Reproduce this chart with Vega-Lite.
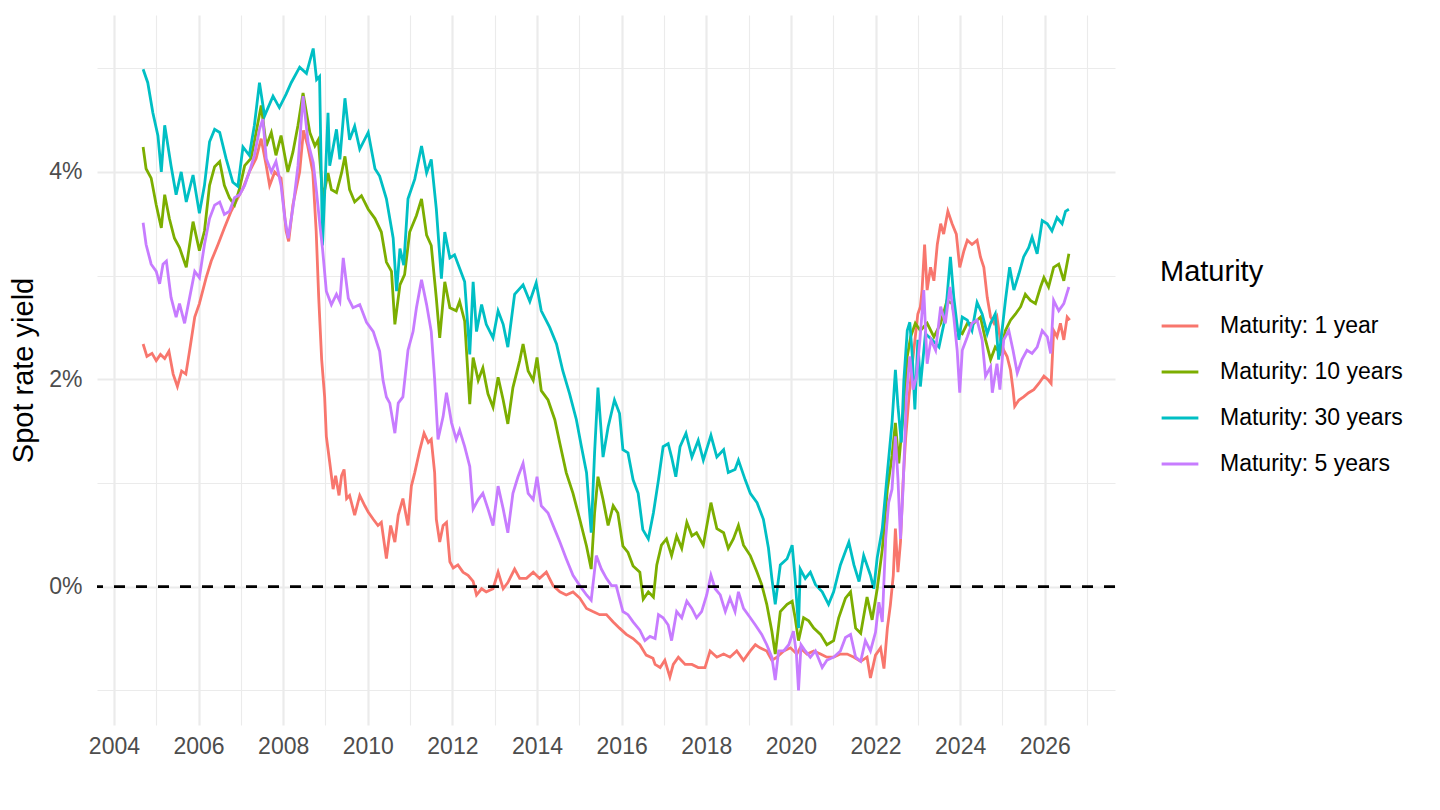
{
  "$schema": "https://vega.github.io/schema/vega-lite/v6.json",
  "width": 1018,
  "height": 710,
  "autosize": {"type": "none"},
  "padding": {"left": 97, "top": 15, "right": 325, "bottom": 85},
  "background": "white",
  "config": {
    "view": {"stroke": null},
    "font": "Liberation Sans",
    "axis": {
      "domain": false,
      "ticks": false,
      "labelFont": "Liberation Sans",
      "labelFontSize": 23,
      "labelColor": "#4D4D4D",
      "gridColor": "#EBEBEB",
      "titleFont": "Liberation Sans",
      "titleFontSize": 29,
      "titleFontWeight": "normal",
      "titleColor": "black"
    }
  },
  "datasets": {
    "y1": [
      {"t":2004.69,"v":2.34},{"t":2004.78,"v":2.22},{"t":2004.9,"v":2.25},{"t":2005.0,"v":2.18},{"t":2005.1,"v":2.24},{"t":2005.2,"v":2.2},{"t":2005.3,"v":2.27},{"t":2005.4,"v":2.05},{"t":2005.5,"v":1.93},{"t":2005.6,"v":2.08},{"t":2005.7,"v":2.05},{"t":2005.79,"v":2.28},{"t":2005.91,"v":2.6},{"t":2006.02,"v":2.73},{"t":2006.18,"v":2.98},{"t":2006.3,"v":3.14},{"t":2006.46,"v":3.3},{"t":2006.61,"v":3.46},{"t":2006.77,"v":3.62},{"t":2006.93,"v":3.75},{"t":2007.05,"v":3.84},{"t":2007.2,"v":4.0},{"t":2007.36,"v":4.13},{"t":2007.48,"v":4.32},{"t":2007.6,"v":4.06},{"t":2007.68,"v":3.87},{"t":2007.8,"v":4.0},{"t":2007.95,"v":3.94},{"t":2008.07,"v":3.43},{"t":2008.13,"v":3.33},{"t":2008.23,"v":3.68},{"t":2008.39,"v":4.0},{"t":2008.48,"v":4.4},{"t":2008.58,"v":4.25},{"t":2008.7,"v":4.0},{"t":2008.78,"v":3.43},{"t":2008.84,"v":2.79},{"t":2008.91,"v":2.19},{"t":2008.98,"v":1.83},{"t":2009.02,"v":1.45},{"t":2009.1,"v":1.2},{"t":2009.18,"v":0.94},{"t":2009.24,"v":1.07},{"t":2009.32,"v":0.88},{"t":2009.38,"v":1.07},{"t":2009.44,"v":1.13},{"t":2009.5,"v":0.85},{"t":2009.57,"v":0.88},{"t":2009.69,"v":0.69},{"t":2009.81,"v":0.88},{"t":2009.93,"v":0.78},{"t":2010.01,"v":0.72},{"t":2010.13,"v":0.65},{"t":2010.24,"v":0.59},{"t":2010.32,"v":0.62},{"t":2010.44,"v":0.27},{"t":2010.54,"v":0.59},{"t":2010.64,"v":0.43},{"t":2010.72,"v":0.69},{"t":2010.83,"v":0.85},{"t":2010.95,"v":0.59},{"t":2011.03,"v":0.97},{"t":2011.11,"v":1.1},{"t":2011.23,"v":1.32},{"t":2011.33,"v":1.48},{"t":2011.43,"v":1.39},{"t":2011.5,"v":1.42},{"t":2011.58,"v":1.1},{"t":2011.62,"v":0.65},{"t":2011.7,"v":0.43},{"t":2011.78,"v":0.59},{"t":2011.86,"v":0.62},{"t":2011.94,"v":0.24},{"t":2012.02,"v":0.18},{"t":2012.13,"v":0.21},{"t":2012.25,"v":0.14},{"t":2012.37,"v":0.11},{"t":2012.49,"v":0.05},{"t":2012.57,"v":-0.08},{"t":2012.69,"v":-0.02},{"t":2012.8,"v":-0.05},{"t":2012.96,"v":-0.02},{"t":2013.08,"v":0.14},{"t":2013.2,"v":-0.02},{"t":2013.31,"v":0.04},{"t":2013.47,"v":0.17},{"t":2013.59,"v":0.08},{"t":2013.75,"v":0.08},{"t":2013.91,"v":0.14},{"t":2014.06,"v":0.08},{"t":2014.22,"v":0.14},{"t":2014.38,"v":0.01},{"t":2014.54,"v":-0.05},{"t":2014.69,"v":-0.08},{"t":2014.85,"v":-0.05},{"t":2015.01,"v":-0.11},{"t":2015.17,"v":-0.21},{"t":2015.32,"v":-0.24},{"t":2015.48,"v":-0.27},{"t":2015.64,"v":-0.27},{"t":2015.8,"v":-0.34},{"t":2015.95,"v":-0.4},{"t":2016.11,"v":-0.46},{"t":2016.27,"v":-0.5},{"t":2016.43,"v":-0.56},{"t":2016.58,"v":-0.66},{"t":2016.74,"v":-0.69},{"t":2016.79,"v":-0.75},{"t":2016.91,"v":-0.78},{"t":2017.02,"v":-0.71},{"t":2017.14,"v":-0.87},{"t":2017.22,"v":-0.75},{"t":2017.34,"v":-0.68},{"t":2017.5,"v":-0.75},{"t":2017.66,"v":-0.75},{"t":2017.81,"v":-0.78},{"t":2017.97,"v":-0.78},{"t":2018.09,"v":-0.62},{"t":2018.25,"v":-0.68},{"t":2018.41,"v":-0.65},{"t":2018.56,"v":-0.68},{"t":2018.72,"v":-0.62},{"t":2018.88,"v":-0.71},{"t":2019.04,"v":-0.62},{"t":2019.16,"v":-0.56},{"t":2019.27,"v":-0.59},{"t":2019.43,"v":-0.62},{"t":2019.55,"v":-0.71},{"t":2019.67,"v":-0.68},{"t":2019.83,"v":-0.62},{"t":2019.99,"v":-0.59},{"t":2020.14,"v":-0.65},{"t":2020.22,"v":-0.59},{"t":2020.38,"v":-0.65},{"t":2020.54,"v":-0.62},{"t":2020.7,"v":-0.65},{"t":2020.85,"v":-0.68},{"t":2021.01,"v":-0.68},{"t":2021.17,"v":-0.65},{"t":2021.33,"v":-0.65},{"t":2021.49,"v":-0.68},{"t":2021.65,"v":-0.72},{"t":2021.8,"v":-0.68},{"t":2021.88,"v":-0.88},{"t":2022.0,"v":-0.66},{"t":2022.12,"v":-0.59},{"t":2022.2,"v":-0.79},{"t":2022.28,"v":-0.4},{"t":2022.35,"v":-0.18},{"t":2022.42,"v":0.11},{"t":2022.47,"v":0.56},{"t":2022.53,"v":0.14},{"t":2022.59,"v":0.43},{"t":2022.65,"v":1.0},{"t":2022.71,"v":1.42},{"t":2022.79,"v":1.83},{"t":2022.87,"v":2.15},{"t":2022.94,"v":2.41},{"t":2023.0,"v":2.63},{"t":2023.06,"v":2.7},{"t":2023.1,"v":2.86},{"t":2023.16,"v":3.3},{"t":2023.22,"v":2.86},{"t":2023.3,"v":3.08},{"t":2023.38,"v":2.95},{"t":2023.46,"v":3.3},{"t":2023.54,"v":3.5},{"t":2023.61,"v":3.4},{"t":2023.71,"v":3.62},{"t":2023.81,"v":3.5},{"t":2023.91,"v":3.4},{"t":2023.99,"v":3.08},{"t":2024.09,"v":3.24},{"t":2024.17,"v":3.34},{"t":2024.28,"v":3.3},{"t":2024.4,"v":3.34},{"t":2024.48,"v":3.18},{"t":2024.56,"v":3.08},{"t":2024.64,"v":2.79},{"t":2024.72,"v":2.6},{"t":2024.8,"v":2.54},{"t":2024.87,"v":2.6},{"t":2024.95,"v":2.38},{"t":2025.03,"v":2.28},{"t":2025.11,"v":2.22},{"t":2025.19,"v":2.09},{"t":2025.25,"v":1.9},{"t":2025.29,"v":1.74},{"t":2025.39,"v":1.8},{"t":2025.5,"v":1.83},{"t":2025.62,"v":1.87},{"t":2025.74,"v":1.9},{"t":2025.86,"v":1.96},{"t":2025.98,"v":2.03},{"t":2026.09,"v":1.99},{"t":2026.15,"v":1.96},{"t":2026.21,"v":2.47},{"t":2026.29,"v":2.41},{"t":2026.37,"v":2.54},{"t":2026.45,"v":2.38},{"t":2026.53,"v":2.6},{"t":2026.59,"v":2.57}
    ],
    "y10": [
      {"t":2004.69,"v":4.24},{"t":2004.76,"v":4.03},{"t":2004.88,"v":3.94},{"t":2005.0,"v":3.68},{"t":2005.12,"v":3.46},{"t":2005.2,"v":3.78},{"t":2005.31,"v":3.55},{"t":2005.43,"v":3.36},{"t":2005.55,"v":3.27},{"t":2005.71,"v":3.08},{"t":2005.87,"v":3.52},{"t":2006.02,"v":3.24},{"t":2006.14,"v":3.43},{"t":2006.26,"v":3.87},{"t":2006.38,"v":4.05},{"t":2006.5,"v":4.1},{"t":2006.61,"v":3.87},{"t":2006.73,"v":3.75},{"t":2006.85,"v":3.68},{"t":2006.97,"v":3.84},{"t":2007.09,"v":4.06},{"t":2007.24,"v":4.13},{"t":2007.36,"v":4.38},{"t":2007.48,"v":4.64},{"t":2007.6,"v":4.25},{"t":2007.72,"v":4.38},{"t":2007.83,"v":4.16},{"t":2007.95,"v":4.35},{"t":2008.11,"v":4.0},{"t":2008.23,"v":4.19},{"t":2008.35,"v":4.45},{"t":2008.47,"v":4.76},{"t":2008.63,"v":4.38},{"t":2008.75,"v":4.25},{"t":2008.83,"v":4.31},{"t":2008.94,"v":3.74},{"t":2009.06,"v":3.99},{"t":2009.14,"v":3.83},{"t":2009.26,"v":3.8},{"t":2009.38,"v":3.99},{"t":2009.46,"v":4.15},{"t":2009.57,"v":3.83},{"t":2009.69,"v":3.71},{"t":2009.85,"v":3.77},{"t":2010.01,"v":3.64},{"t":2010.17,"v":3.55},{"t":2010.32,"v":3.42},{"t":2010.44,"v":3.13},{"t":2010.56,"v":3.04},{"t":2010.64,"v":2.53},{"t":2010.76,"v":2.91},{"t":2010.87,"v":3.01},{"t":2010.99,"v":3.42},{"t":2011.15,"v":3.58},{"t":2011.27,"v":3.74},{"t":2011.39,"v":3.39},{"t":2011.5,"v":3.29},{"t":2011.62,"v":2.78},{"t":2011.7,"v":2.4},{"t":2011.82,"v":2.94},{"t":2011.94,"v":2.69},{"t":2012.09,"v":2.66},{"t":2012.17,"v":2.75},{"t":2012.29,"v":2.56},{"t":2012.41,"v":1.76},{"t":2012.49,"v":2.21},{"t":2012.61,"v":1.99},{"t":2012.72,"v":2.11},{"t":2012.84,"v":1.86},{"t":2012.96,"v":1.73},{"t":2013.08,"v":2.02},{"t":2013.2,"v":1.8},{"t":2013.31,"v":1.57},{"t":2013.43,"v":1.92},{"t":2013.59,"v":2.18},{"t":2013.67,"v":2.34},{"t":2013.79,"v":2.08},{"t":2013.91,"v":1.99},{"t":2014.0,"v":2.21},{"t":2014.1,"v":1.89},{"t":2014.26,"v":1.8},{"t":2014.42,"v":1.61},{"t":2014.54,"v":1.38},{"t":2014.69,"v":1.1},{"t":2014.85,"v":0.9},{"t":2015.01,"v":0.65},{"t":2015.17,"v":0.39},{"t":2015.28,"v":0.17},{"t":2015.36,"v":0.71},{"t":2015.44,"v":1.06},{"t":2015.56,"v":0.84},{"t":2015.68,"v":0.59},{"t":2015.8,"v":0.78},{"t":2015.91,"v":0.71},{"t":2016.03,"v":0.39},{"t":2016.15,"v":0.33},{"t":2016.27,"v":0.2},{"t":2016.43,"v":0.14},{"t":2016.51,"v":-0.12},{"t":2016.63,"v":-0.05},{"t":2016.75,"v":-0.1},{"t":2016.83,"v":0.21},{"t":2016.94,"v":0.4},{"t":2017.06,"v":0.46},{"t":2017.18,"v":0.3},{"t":2017.3,"v":0.49},{"t":2017.42,"v":0.37},{"t":2017.54,"v":0.62},{"t":2017.66,"v":0.49},{"t":2017.77,"v":0.52},{"t":2017.93,"v":0.4},{"t":2018.11,"v":0.81},{"t":2018.25,"v":0.56},{"t":2018.41,"v":0.52},{"t":2018.52,"v":0.37},{"t":2018.64,"v":0.46},{"t":2018.76,"v":0.59},{"t":2018.88,"v":0.4},{"t":2019.04,"v":0.3},{"t":2019.2,"v":0.14},{"t":2019.31,"v":0.02},{"t":2019.43,"v":-0.17},{"t":2019.55,"v":-0.43},{"t":2019.63,"v":-0.65},{"t":2019.75,"v":-0.24},{"t":2019.91,"v":-0.17},{"t":2020.03,"v":-0.14},{"t":2020.1,"v":-0.3},{"t":2020.18,"v":-0.52},{"t":2020.3,"v":-0.3},{"t":2020.42,"v":-0.33},{"t":2020.54,"v":-0.4},{"t":2020.7,"v":-0.46},{"t":2020.85,"v":-0.56},{"t":2021.01,"v":-0.52},{"t":2021.13,"v":-0.3},{"t":2021.29,"v":-0.11},{"t":2021.41,"v":-0.05},{"t":2021.53,"v":-0.4},{"t":2021.65,"v":-0.45},{"t":2021.8,"v":-0.1},{"t":2021.92,"v":-0.32},{"t":2022.04,"v":-0.02},{"t":2022.16,"v":0.36},{"t":2022.28,"v":0.94},{"t":2022.39,"v":1.26},{"t":2022.47,"v":1.58},{"t":2022.55,"v":1.19},{"t":2022.67,"v":1.74},{"t":2022.75,"v":2.22},{"t":2022.83,"v":2.41},{"t":2022.94,"v":2.54},{"t":2023.06,"v":2.47},{"t":2023.22,"v":2.54},{"t":2023.38,"v":2.41},{"t":2023.54,"v":2.54},{"t":2023.69,"v":2.76},{"t":2023.81,"v":2.73},{"t":2023.93,"v":2.47},{"t":2024.05,"v":2.44},{"t":2024.17,"v":2.54},{"t":2024.32,"v":2.54},{"t":2024.48,"v":2.6},{"t":2024.6,"v":2.38},{"t":2024.72,"v":2.19},{"t":2024.83,"v":2.31},{"t":2024.95,"v":2.25},{"t":2025.07,"v":2.47},{"t":2025.19,"v":2.57},{"t":2025.31,"v":2.63},{"t":2025.43,"v":2.7},{"t":2025.54,"v":2.82},{"t":2025.66,"v":2.76},{"t":2025.78,"v":2.73},{"t":2025.9,"v":2.89},{"t":2025.98,"v":2.98},{"t":2026.09,"v":2.89},{"t":2026.21,"v":3.08},{"t":2026.33,"v":3.11},{"t":2026.45,"v":2.95},{"t":2026.57,"v":3.21}
    ],
    "y30": [
      {"t":2004.69,"v":4.99},{"t":2004.8,"v":4.86},{"t":2004.92,"v":4.57},{"t":2005.04,"v":4.35},{"t":2005.12,"v":4.0},{"t":2005.2,"v":4.45},{"t":2005.35,"v":4.06},{"t":2005.47,"v":3.78},{"t":2005.59,"v":4.0},{"t":2005.71,"v":3.71},{"t":2005.87,"v":3.97},{"t":2006.02,"v":3.6},{"t":2006.14,"v":3.87},{"t":2006.26,"v":4.29},{"t":2006.38,"v":4.41},{"t":2006.5,"v":4.38},{"t":2006.65,"v":4.13},{"t":2006.81,"v":3.9},{"t":2006.93,"v":3.86},{"t":2007.05,"v":4.24},{"t":2007.2,"v":4.16},{"t":2007.32,"v":4.45},{"t":2007.44,"v":4.86},{"t":2007.56,"v":4.54},{"t":2007.76,"v":4.73},{"t":2007.91,"v":4.62},{"t":2008.07,"v":4.75},{"t":2008.19,"v":4.86},{"t":2008.39,"v":5.01},{"t":2008.55,"v":4.95},{"t":2008.71,"v":5.19},{"t":2008.79,"v":4.89},{"t":2008.86,"v":4.92},{"t":2008.93,"v":3.29},{"t":2009.06,"v":4.57},{"t":2009.1,"v":4.06},{"t":2009.26,"v":4.41},{"t":2009.34,"v":4.12},{"t":2009.46,"v":4.71},{"t":2009.57,"v":4.31},{"t":2009.69,"v":4.44},{"t":2009.81,"v":4.22},{"t":2010.01,"v":4.38},{"t":2010.17,"v":4.03},{"t":2010.28,"v":3.96},{"t":2010.44,"v":3.74},{"t":2010.6,"v":3.36},{"t":2010.68,"v":2.85},{"t":2010.76,"v":3.26},{"t":2010.85,"v":3.1},{"t":2010.95,"v":3.74},{"t":2011.11,"v":3.93},{"t":2011.27,"v":4.25},{"t":2011.39,"v":3.99},{"t":2011.5,"v":4.12},{"t":2011.62,"v":3.64},{"t":2011.74,"v":2.97},{"t":2011.82,"v":3.42},{"t":2011.94,"v":3.17},{"t":2012.05,"v":3.2},{"t":2012.17,"v":3.07},{"t":2012.29,"v":2.94},{"t":2012.41,"v":2.24},{"t":2012.49,"v":2.94},{"t":2012.57,"v":2.46},{"t":2012.69,"v":2.72},{"t":2012.8,"v":2.53},{"t":2012.96,"v":2.4},{"t":2013.08,"v":2.66},{"t":2013.2,"v":2.53},{"t":2013.31,"v":2.31},{"t":2013.47,"v":2.82},{"t":2013.67,"v":2.91},{"t":2013.83,"v":2.75},{"t":2013.98,"v":2.93},{"t":2014.1,"v":2.66},{"t":2014.3,"v":2.5},{"t":2014.46,"v":2.34},{"t":2014.61,"v":2.08},{"t":2014.77,"v":1.86},{"t":2014.93,"v":1.61},{"t":2015.05,"v":1.35},{"t":2015.17,"v":1.1},{"t":2015.28,"v":0.52},{"t":2015.36,"v":1.29},{"t":2015.44,"v":1.92},{"t":2015.56,"v":1.25},{"t":2015.68,"v":1.54},{"t":2015.83,"v":1.8},{"t":2015.95,"v":1.67},{"t":2016.03,"v":1.32},{"t":2016.15,"v":1.29},{"t":2016.27,"v":1.03},{"t":2016.39,"v":0.9},{"t":2016.5,"v":0.55},{"t":2016.63,"v":0.46},{"t":2016.75,"v":0.71},{"t":2016.87,"v":1.03},{"t":2016.98,"v":1.35},{"t":2017.1,"v":1.38},{"t":2017.18,"v":1.25},{"t":2017.28,"v":1.06},{"t":2017.38,"v":1.35},{"t":2017.52,"v":1.48},{"t":2017.66,"v":1.25},{"t":2017.81,"v":1.41},{"t":2017.93,"v":1.22},{"t":2018.11,"v":1.46},{"t":2018.25,"v":1.25},{"t":2018.41,"v":1.32},{"t":2018.52,"v":1.1},{"t":2018.68,"v":1.13},{"t":2018.76,"v":1.22},{"t":2018.92,"v":1.03},{"t":2019.04,"v":0.9},{"t":2019.2,"v":0.81},{"t":2019.35,"v":0.65},{"t":2019.47,"v":0.37},{"t":2019.55,"v":0.08},{"t":2019.63,"v":-0.17},{"t":2019.75,"v":0.21},{"t":2019.91,"v":0.27},{"t":2020.03,"v":0.4},{"t":2020.1,"v":0.08},{"t":2020.18,"v":-0.4},{"t":2020.22,"v":0.17},{"t":2020.34,"v":0.08},{"t":2020.46,"v":0.14},{"t":2020.58,"v":0.02},{"t":2020.74,"v":-0.05},{"t":2020.89,"v":-0.17},{"t":2021.01,"v":-0.05},{"t":2021.17,"v":0.21},{"t":2021.37,"v":0.43},{"t":2021.49,"v":0.21},{"t":2021.61,"v":0.05},{"t":2021.72,"v":0.3},{"t":2021.88,"v":0.11},{"t":2021.96,"v":-0.02},{"t":2022.04,"v":0.28},{"t":2022.16,"v":0.56},{"t":2022.28,"v":1.1},{"t":2022.39,"v":1.58},{"t":2022.47,"v":2.09},{"t":2022.53,"v":1.74},{"t":2022.61,"v":1.39},{"t":2022.67,"v":1.99},{"t":2022.75,"v":2.47},{"t":2022.81,"v":2.55},{"t":2022.87,"v":2.22},{"t":2022.93,"v":1.71},{"t":2023.0,"v":2.38},{"t":2023.06,"v":1.93},{"t":2023.18,"v":2.44},{"t":2023.34,"v":2.38},{"t":2023.5,"v":2.31},{"t":2023.65,"v":2.6},{"t":2023.77,"v":3.18},{"t":2023.85,"v":2.79},{"t":2023.97,"v":2.38},{"t":2024.05,"v":2.6},{"t":2024.17,"v":2.57},{"t":2024.28,"v":2.47},{"t":2024.4,"v":2.74},{"t":2024.52,"v":2.63},{"t":2024.64,"v":2.44},{"t":2024.72,"v":2.54},{"t":2024.83,"v":2.63},{"t":2024.91,"v":2.19},{"t":2024.99,"v":2.47},{"t":2025.07,"v":2.76},{"t":2025.17,"v":3.08},{"t":2025.27,"v":2.86},{"t":2025.39,"v":3.02},{"t":2025.5,"v":3.18},{"t":2025.62,"v":3.27},{"t":2025.7,"v":3.37},{"t":2025.82,"v":3.21},{"t":2025.94,"v":3.53},{"t":2026.06,"v":3.5},{"t":2026.17,"v":3.43},{"t":2026.29,"v":3.56},{"t":2026.41,"v":3.5},{"t":2026.49,"v":3.62},{"t":2026.57,"v":3.64}
    ],
    "y5": [
      {"t":2004.69,"v":3.51},{"t":2004.76,"v":3.3},{"t":2004.88,"v":3.11},{"t":2005.0,"v":3.04},{"t":2005.08,"v":2.92},{"t":2005.16,"v":3.11},{"t":2005.24,"v":3.14},{"t":2005.35,"v":2.79},{"t":2005.47,"v":2.6},{"t":2005.55,"v":2.73},{"t":2005.67,"v":2.54},{"t":2005.79,"v":2.79},{"t":2005.91,"v":3.04},{"t":2006.02,"v":2.98},{"t":2006.14,"v":3.3},{"t":2006.26,"v":3.55},{"t":2006.38,"v":3.68},{"t":2006.5,"v":3.71},{"t":2006.61,"v":3.59},{"t":2006.73,"v":3.62},{"t":2006.85,"v":3.75},{"t":2006.97,"v":3.78},{"t":2007.09,"v":3.87},{"t":2007.2,"v":4.0},{"t":2007.32,"v":4.16},{"t":2007.44,"v":4.41},{"t":2007.52,"v":4.51},{"t":2007.6,"v":4.13},{"t":2007.72,"v":4.0},{"t":2007.83,"v":4.1},{"t":2007.95,"v":3.87},{"t":2008.04,"v":3.55},{"t":2008.12,"v":3.36},{"t":2008.24,"v":3.68},{"t":2008.35,"v":4.06},{"t":2008.47,"v":4.73},{"t":2008.59,"v":4.28},{"t":2008.71,"v":4.09},{"t":2008.79,"v":3.8},{"t":2008.87,"v":3.48},{"t":2008.93,"v":3.26},{"t":2009.02,"v":2.85},{"t":2009.14,"v":2.72},{"t":2009.26,"v":2.82},{"t":2009.34,"v":2.75},{"t":2009.42,"v":3.17},{"t":2009.54,"v":2.78},{"t":2009.65,"v":2.69},{"t":2009.81,"v":2.72},{"t":2009.97,"v":2.55},{"t":2010.13,"v":2.46},{"t":2010.28,"v":2.27},{"t":2010.36,"v":1.99},{"t":2010.44,"v":1.83},{"t":2010.52,"v":1.77},{"t":2010.64,"v":1.48},{"t":2010.72,"v":1.77},{"t":2010.83,"v":1.83},{"t":2010.95,"v":2.28},{"t":2011.07,"v":2.46},{"t":2011.15,"v":2.69},{"t":2011.27,"v":2.96},{"t":2011.39,"v":2.72},{"t":2011.5,"v":2.46},{"t":2011.58,"v":2.0},{"t":2011.66,"v":1.42},{"t":2011.78,"v":1.64},{"t":2011.86,"v":1.87},{"t":2011.98,"v":1.58},{"t":2012.09,"v":1.42},{"t":2012.17,"v":1.51},{"t":2012.29,"v":1.35},{"t":2012.41,"v":1.16},{"t":2012.49,"v":0.75},{"t":2012.61,"v":0.84},{"t":2012.72,"v":0.9},{"t":2012.84,"v":0.75},{"t":2012.96,"v":0.59},{"t":2013.08,"v":0.97},{"t":2013.2,"v":0.75},{"t":2013.31,"v":0.52},{"t":2013.43,"v":0.9},{"t":2013.55,"v":1.06},{"t":2013.67,"v":1.19},{"t":2013.79,"v":0.9},{"t":2013.91,"v":0.84},{"t":2014.0,"v":1.06},{"t":2014.1,"v":0.78},{"t":2014.26,"v":0.71},{"t":2014.42,"v":0.55},{"t":2014.54,"v":0.43},{"t":2014.69,"v":0.27},{"t":2014.85,"v":0.11},{"t":2015.01,"v":0.01},{"t":2015.17,"v":-0.08},{"t":2015.28,"v":-0.13},{"t":2015.4,"v":0.3},{"t":2015.52,"v":0.17},{"t":2015.64,"v":0.08},{"t":2015.76,"v":0.01},{"t":2015.87,"v":0.01},{"t":2016.03,"v":-0.24},{"t":2016.15,"v":-0.27},{"t":2016.27,"v":-0.34},{"t":2016.43,"v":-0.42},{"t":2016.55,"v":-0.52},{"t":2016.67,"v":-0.48},{"t":2016.79,"v":-0.5},{"t":2016.87,"v":-0.27},{"t":2016.98,"v":-0.3},{"t":2017.1,"v":-0.37},{"t":2017.18,"v":-0.52},{"t":2017.3,"v":-0.24},{"t":2017.42,"v":-0.3},{"t":2017.54,"v":-0.14},{"t":2017.66,"v":-0.21},{"t":2017.77,"v":-0.3},{"t":2017.89,"v":-0.24},{"t":2018.01,"v":-0.08},{"t":2018.11,"v":0.11},{"t":2018.21,"v":-0.02},{"t":2018.33,"v":-0.08},{"t":2018.45,"v":-0.24},{"t":2018.56,"v":-0.11},{"t":2018.68,"v":-0.24},{"t":2018.76,"v":-0.05},{"t":2018.88,"v":-0.21},{"t":2019.04,"v":-0.3},{"t":2019.16,"v":-0.37},{"t":2019.31,"v":-0.46},{"t":2019.43,"v":-0.56},{"t":2019.55,"v":-0.68},{"t":2019.63,"v":-0.9},{"t":2019.71,"v":-0.62},{"t":2019.83,"v":-0.62},{"t":2019.95,"v":-0.56},{"t":2020.06,"v":-0.43},{"t":2020.13,"v":-0.65},{"t":2020.18,"v":-1.0},{"t":2020.24,"v":-0.56},{"t":2020.34,"v":-0.62},{"t":2020.46,"v":-0.68},{"t":2020.58,"v":-0.62},{"t":2020.74,"v":-0.78},{"t":2020.85,"v":-0.71},{"t":2021.01,"v":-0.68},{"t":2021.17,"v":-0.62},{"t":2021.29,"v":-0.49},{"t":2021.41,"v":-0.46},{"t":2021.53,"v":-0.68},{"t":2021.65,"v":-0.72},{"t":2021.76,"v":-0.52},{"t":2021.88,"v":-0.62},{"t":2022.0,"v":-0.44},{"t":2022.08,"v":-0.15},{"t":2022.16,"v":-0.34},{"t":2022.24,"v":0.46},{"t":2022.31,"v":0.81},{"t":2022.39,"v":0.94},{"t":2022.47,"v":1.45},{"t":2022.53,"v":1.04},{"t":2022.59,"v":0.46},{"t":2022.65,"v":0.94},{"t":2022.73,"v":1.83},{"t":2022.81,"v":2.22},{"t":2022.89,"v":1.9},{"t":2022.97,"v":2.03},{"t":2023.05,"v":2.38},{"t":2023.14,"v":2.86},{"t":2023.22,"v":2.15},{"t":2023.31,"v":2.38},{"t":2023.42,"v":2.28},{"t":2023.54,"v":2.7},{"t":2023.65,"v":2.54},{"t":2023.76,"v":2.89},{"t":2023.85,"v":2.6},{"t":2023.93,"v":2.28},{"t":2023.99,"v":1.87},{"t":2024.05,"v":2.28},{"t":2024.17,"v":2.41},{"t":2024.28,"v":2.54},{"t":2024.4,"v":2.57},{"t":2024.52,"v":2.38},{"t":2024.6,"v":2.03},{"t":2024.72,"v":2.12},{"t":2024.76,"v":1.87},{"t":2024.87,"v":2.15},{"t":2024.94,"v":1.9},{"t":2025.03,"v":2.38},{"t":2025.15,"v":2.47},{"t":2025.25,"v":2.28},{"t":2025.35,"v":2.06},{"t":2025.46,"v":2.19},{"t":2025.58,"v":2.28},{"t":2025.7,"v":2.25},{"t":2025.82,"v":2.31},{"t":2025.94,"v":2.47},{"t":2026.06,"v":2.41},{"t":2026.14,"v":2.25},{"t":2026.21,"v":2.76},{"t":2026.33,"v":2.66},{"t":2026.45,"v":2.73},{"t":2026.57,"v":2.89}
    ]
  },
  "layer": [
    {
      "data": {"name": "y1"},
      "mark": {"type": "line", "strokeWidth": 2.8},
      "encoding": {
        "x": {
          "field": "t",
          "type": "quantitative",
          "scale": {"domain": [2003.6, 2027.66], "nice": false, "zero": false},
          "axis": {
            "title": null,
            "values": [2004, 2005, 2006, 2007, 2008, 2009, 2010, 2011, 2012, 2013, 2014, 2015, 2016, 2017, 2018, 2019, 2020, 2021, 2022, 2023, 2024, 2025, 2026, 2027],
            "format": "d",
            "labelExpr": "datum.value % 2 === 0 ? datum.label : ''",
            "labelOverlap": false,
            "labelFlush": false,
            "labelPadding": 10,
            "gridWidth": {"condition": {"test": "datum.value % 2 === 0", "value": 2.2}, "value": 1.1}
          }
        },
        "y": {
          "field": "v",
          "type": "quantitative",
          "scale": {"domain": [-1.334, 5.513], "nice": false, "zero": false},
          "axis": {
            "title": "Spot rate yield",
            "values": [-1, 0, 1, 2, 3, 4, 5],
            "labelExpr": "datum.value % 2 === 0 ? datum.value + '%' : ''",
            "labelOverlap": false,
            "labelPadding": 15,
            "titleX": -65,
            "titleY": 355,
            "titleAngle": -90,
            "titleAlign": "center",
            "titleBaseline": "alphabetic",
            "gridWidth": {"condition": {"test": "datum.value % 2 === 0", "value": 2.2}, "value": 1.1}
          }
        },
        "color": {
          "datum": "Maturity: 1 year",
          "type": "nominal",
          "scale": {
            "domain": ["Maturity: 1 year", "Maturity: 10 years", "Maturity: 30 years", "Maturity: 5 years"],
            "range": ["#F8766D", "#7CAE00", "#00BFC4", "#C77CFF"]
          },
          "legend": {
            "title": "Maturity",
            "orient": "none",
            "legendX": 1063,
            "legendY": 243,
            "titleFont": "Liberation Sans",
            "titleFontSize": 29,
            "titleFontWeight": "normal",
            "titleColor": "black",
            "titlePadding": 19,
            "labelFont": "Liberation Sans",
            "labelFontSize": 23,
            "labelColor": "black",
            "labelLimit": 400,
            "labelOffset": 20,
            "symbolType": "stroke",
            "symbolSize": 1350,
            "symbolStrokeWidth": 2.8,
            "rowPadding": 14
          }
        }
      }
    },
    {
      "data": {"name": "y10"},
      "mark": {"type": "line", "strokeWidth": 2.8},
      "encoding": {
        "x": {"field": "t", "type": "quantitative"},
        "y": {"field": "v", "type": "quantitative"},
        "color": {"datum": "Maturity: 10 years", "type": "nominal"}
      }
    },
    {
      "data": {"name": "y30"},
      "mark": {"type": "line", "strokeWidth": 2.8},
      "encoding": {
        "x": {"field": "t", "type": "quantitative"},
        "y": {"field": "v", "type": "quantitative"},
        "color": {"datum": "Maturity: 30 years", "type": "nominal"}
      }
    },
    {
      "data": {"name": "y5"},
      "mark": {"type": "line", "strokeWidth": 2.8},
      "encoding": {
        "x": {"field": "t", "type": "quantitative"},
        "y": {"field": "v", "type": "quantitative"},
        "color": {"datum": "Maturity: 5 years", "type": "nominal"}
      }
    },
    {
      "data": {"values": [{}]},
      "mark": {"type": "rule", "color": "black", "strokeWidth": 2.6, "strokeDash": [11, 11]},
      "encoding": {
        "y": {"datum": 0, "type": "quantitative"}
      }
    }
  ]
}
